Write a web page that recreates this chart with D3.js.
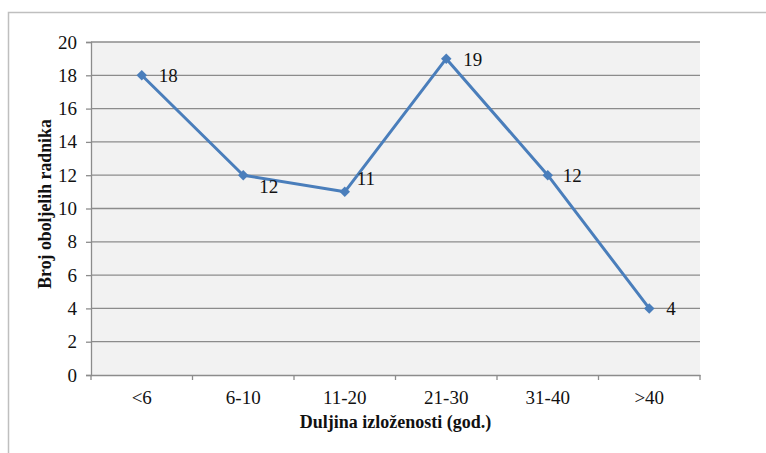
<!DOCTYPE html>
<html><head><meta charset="utf-8">
<script src="https://cdn.jsdelivr.net/npm/d3@7"></script>
<style>body{margin:0;background:#fff}svg{display:block}</style>
</head><body>
<script>
const categories = ["<6","6-10","11-20","21-30","31-40",">40"];
const values = [18,12,11,19,12,4];
const yTicks = [0,2,4,6,8,10,12,14,16,18,20];
// label offsets per point [dx, dy]
const labelOffsets = [[17,0],[16,11],[12,-14],[17,1],[15,0],[17,0]];

const W=766,H=453;
const svg=d3.select("body").append("svg").attr("width",W).attr("height",H);
const font="'Liberation Serif','Times New Roman',serif";
svg.append("rect").attr("x",8.5).attr("y",12.5).attr("width",W+10).attr("height",H+10)
  .attr("fill","#fff").attr("stroke","#bfbfbf").attr("stroke-width",1.5);

const m={l:91,r:700,t:42,b:375};
const x=d3.scaleBand().domain(categories).range([m.l,m.r]);
const y=d3.scaleLinear().domain([0,20]).range([m.b,m.t]);

svg.append("rect").attr("x",m.l).attr("y",m.t).attr("width",m.r-m.l).attr("height",m.b-m.t).attr("fill","#f2f2f2");

// gridlines
svg.append("g").selectAll("line").data(yTicks.filter(d=>d>0)).join("line")
  .attr("x1",m.l).attr("x2",m.r).attr("y1",d=>y(d)).attr("y2",d=>y(d))
  .attr("stroke","#8c8c8c").attr("stroke-width",1.3);

const yAx=svg.append("g").attr("transform",`translate(${m.l},0)`)
  .call(d3.axisLeft(y).tickValues(yTicks).tickSize(5).tickPadding(9));
const xAx=svg.append("g").attr("transform",`translate(0,${m.b})`)
  .call(d3.axisBottom(x).tickSize(0).tickPadding(16));
// x ticks at band boundaries
const bounds=categories.map(c=>x(c)).concat([m.r]);
svg.append("g").selectAll("line").data(bounds).join("line")
  .attr("x1",d=>d).attr("x2",d=>d).attr("y1",m.b).attr("y2",m.b+5)
  .attr("stroke","#8c8c8c").attr("stroke-width",1.3);
[yAx,xAx].forEach(g=>{
  g.attr("font-family",font);
  g.selectAll(".domain").attr("stroke","#8c8c8c").attr("stroke-width",1.3);
  g.selectAll(".tick line").attr("stroke","#8c8c8c").attr("stroke-width",1.3);
  g.selectAll("text").attr("font-family",font).attr("font-size",19).attr("fill","#111");
});

const cx=d=>x(d)+x.bandwidth()/2;
const line=d3.line().x((d,i)=>cx(categories[i])).y(d=>y(d));
svg.append("path").datum(values).attr("d",line).attr("fill","none")
  .attr("stroke","#4a7ebb").attr("stroke-width",3).attr("stroke-linejoin","round");
svg.append("g").selectAll("path").data(values).join("path")
  .attr("d",d3.symbol(d3.symbolDiamond2,70))
  .attr("transform",(d,i)=>`translate(${cx(categories[i])},${y(d)})`)
  .attr("fill","#4a7ebb");
svg.append("g").selectAll("text").data(values).join("text")
  .attr("x",(d,i)=>cx(categories[i])+labelOffsets[i][0])
  .attr("y",(d,i)=>y(d)+labelOffsets[i][1])
  .attr("dy","0.35em").attr("font-family",font).attr("font-size",19).attr("fill","#111")
  .text(d=>d);

svg.append("text").attr("x",(m.l+m.r)/2).attr("y",428).attr("text-anchor","middle")
  .attr("font-family",font).attr("font-size",18).attr("font-weight","bold").attr("fill","#111")
  .text("Duljina izloženosti (god.)");
svg.append("text").attr("transform",`translate(51,204) rotate(-90)`).attr("text-anchor","middle")
  .attr("font-family",font).attr("font-size",17.8).attr("font-weight","bold").attr("fill","#111")
  .text("Broj oboljelih radnika");
</script>
</body></html>
